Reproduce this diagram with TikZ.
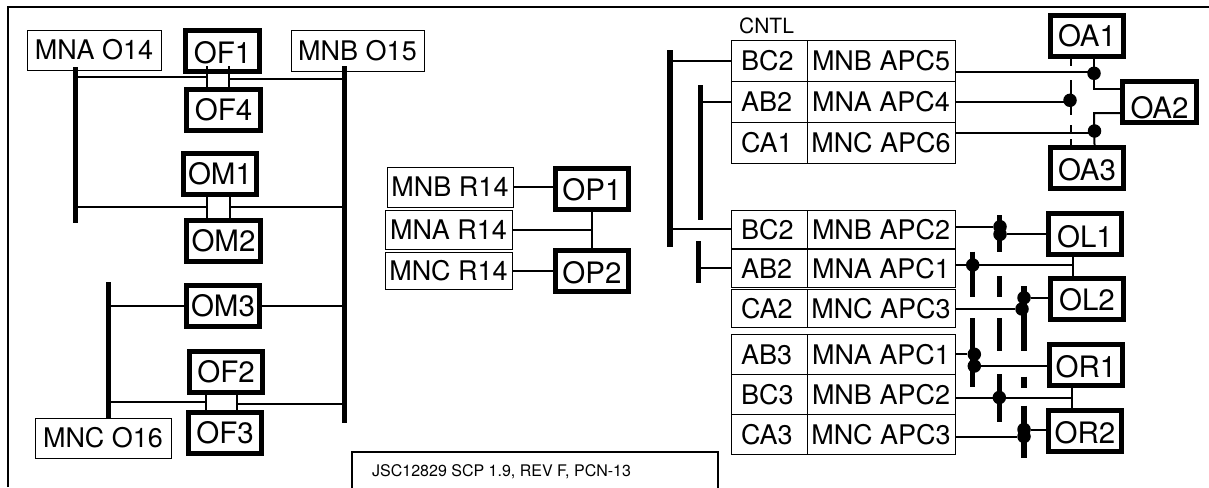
\documentclass[tikz,border=0pt]{standalone}
\usepackage{fontspec}
\setmainfont{TeX Gyre Heros}
\usetikzlibrary{positioning}
\tikzset{x=1pt, y=-1pt,
	node distance=40pt,
	every node/.style={inner sep=0pt},
	unit/.style={
		draw, line width=5pt,
		minimum width=73.5pt, minimum height=41pt,
		text height=21pt, text depth=0pt,
		font=\fontsize{29.5}{31}\selectfont},
	low/.style={text height=#1},
	tag/.style={
		draw, line width=0.9pt,
		font=\fontsize{27}{29}\selectfont},
	slot/.style={tag, inner xsep=10pt, text width=56pt, align=left, minimum height=40pt},
	apc/.style={tag, minimum width=148pt, minimum height=40pt},
	bus/.style={fill=black, minimum width=5pt},
	bar/.style={line width=5.5pt},
	wire/.style={line width=2pt},
	joint/.style={circle, fill=black, minimum size=13.5pt}
}
\begin{document}
\begin{tikzpicture}
	\useasboundingbox (0,0) rectangle (1209,487);
	% frame
	\coordinate (fbl) at (8,487);
	\coordinate (ftl) at (8,7);
	\coordinate (ftr) at (1209,7);
	\draw[line width=2pt] (fbl) -- (ftl) -- (ftr);

	% left block
	\node[tag, minimum width=134pt, minimum height=40pt] (mnao14) at (94,50) {MNA O14};
	\node[tag, minimum width=133pt, minimum height=41pt] (mnbo15) at (357.5,50.5) {MNB O15};
	\node[tag, minimum width=136pt, minimum height=40pt] (mnco16) at (103,438) {MNC O16};
	\node[bus, minimum height=156pt] (busA) at (75,145) {};
	\node[bus, minimum height=357pt] (busB) at (344.5,244.5) {};
	\node[bus, minimum height=136pt] (busC) at (108,350) {};
	\node[unit, low=25pt] (OF1) at (222.5,51) {OF1};
	\node[unit] (OF4) at (223.5,109.5) {OF4};
	\node[unit] (OM1) at (220,174) {OM1};
	\node[unit] (OM2) at (223.5,240.5) {OM2};
	\node[unit] (OM3) at (223,306) {OM3};
	\node[unit] (OF2) at (226,372) {OF2};
	\node[unit] (OF3) at (225,433) {OF3};
	\coordinate (sa1) at (207,66);
	\coordinate (sa2) at (207,88);
	\coordinate (sb1) at (229,66);
	\coordinate (sb2) at (229,88);
	\coordinate (wa) at (207,76.5);
	\coordinate (wb) at (229,79);
	\draw[wire] (sa1) -- (sa2);
	\draw[wire] (sb1) -- (sb2);
	\draw[wire] (busA |- wa) -- (wa);
	\draw[wire] (wb) -- (busB |- wb);
	\coordinate (wc) at (207,207);
	\coordinate (wd) at (230,206.5);
	\draw[wire] (wc |- OM1.south) -- (wc |- OM2.north);
	\draw[wire] (wd |- OM1.south) -- (wd |- OM2.north);
	\draw[wire] (busA |- wc) -- (wc);
	\draw[wire] (wd) -- (busB |- wd);
	\draw[wire] (busC |- OM3) -- (OM3);
	\draw[wire] (OM3) -- (busB |- OM3);
	\coordinate (we) at (206,402);
	\coordinate (wf) at (237,403.5);
	\draw[wire] (we |- OF2.south) -- (we |- OF3.north);
	\draw[wire] (wf |- OF2.south) -- (wf |- OF3.north);
	\draw[wire] (busC |- we) -- (we);
	\draw[wire] (wf) -- (busB |- wf);

	% middle block
	\node[tag, minimum width=126pt, minimum height=40pt] (mnbr14) at (450,187) {MNB R14};
	\node[tag, minimum width=127pt, minimum height=39pt] (mnar14) at (448.5,229.5) {MNA R14};
	\node[tag, minimum width=127pt, minimum height=37pt] (mncr14) at (448.5,270.5) {MNC R14};
	\node[unit, low=24pt] (OP1) at (592,188.5) {OP1};
	\node[unit, low=26pt] (OP2) at (592,270.5) {OP2};
	\draw[wire] (mnbr14.east |- 0,186.5) -- (OP1.west |- 0,186.5);
	\draw[wire] (mncr14) -- (OP2);
	\draw[wire] (OP1) -- (OP2);
	\draw[wire] (mnar14) -- (OP1 |- mnar14);
	\node[draw, line width=1.6pt, fill=white, minimum width=366pt, minimum height=50pt] (rev) at (535,477) {};
	\node[font=\fontsize{16}{18}\selectfont, anchor=west] (revtext) at (372,472) {JSC12829 SCP 1.9, REV F, PCN-13};

	% control tables
	\node[font=\fontsize{21}{23}\selectfont] (cntl) at (766.5,25.5) {CNTL};
	\node[slot, minimum height=41pt] (bc2a) at (769,61) {BC2};
	\node[slot, minimum height=41pt, below of=bc2a, node distance=41pt] (ab2a) {AB2};
	\node[slot, minimum height=41pt, below of=ab2a, node distance=41pt] (ca1) {CA1};
	\node[apc, minimum height=41pt, right of=bc2a, node distance=112pt] (apc5) {MNB APC5};
	\node[apc, minimum height=41pt, right of=ab2a, node distance=112pt] (apc4) {MNA APC4};
	\node[apc, minimum height=41pt, right of=ca1, node distance=112pt] (apc6) {MNC APC6};

	\node[slot, minimum height=38.5pt] (bc2b) at (769,229.3) {BC2};
	\node[slot, minimum height=38.5pt, below of=bc2b, node distance=39pt] (ab2b) {AB2};
	\node[slot, minimum height=38.5pt, below of=ab2b, node distance=40pt] (ca2) {CA2};
	\node[apc, minimum height=38.5pt, right of=bc2b, node distance=112pt] (apc2a) {MNB APC2};
	\node[apc, minimum height=38.5pt, right of=ab2b, node distance=112pt] (apc1a) {MNA APC1};
	\node[apc, minimum height=38.5pt, right of=ca2, node distance=112pt] (apc3a) {MNC APC3};

	\node[slot] (ab3) at (769,354.5) {AB3};
	\node[slot, below of=ab3] (bc3) {BC3};
	\node[slot, below of=bc3] (ca3) {CA3};
	\node[apc, right of=ab3, node distance=112pt] (apc1b) {MNA APC1};
	\node[apc, right of=bc3, node distance=112pt] (apc2b) {MNB APC2};
	\node[apc, right of=ca3, node distance=112pt] (apc3b) {MNC APC3};

	% control buses
	\node[bus, minimum width=5.5pt, minimum height=197pt] (busD) at (670,148.5) {};
	\node[bus, minimum height=135pt] (busE) at (700,152.5) {};
	\node[bus, minimum height=42pt] (busF) at (698,262) {};
	\draw[wire] (busD |- bc2a) -- (bc2a);
	\draw[wire] (busE |- ab2a) -- (ab2a);
	\draw[wire] (busD |- bc2b) -- (bc2b);
	\draw[wire] (busF |- ab2b) -- (ab2b);

	% effector units
	\node[unit] (OA1) at (1087,36) {OA1};
	\node[unit, low=33pt] (OA2) at (1159.5,102) {OA2};
	\node[unit, low=25pt] (OA3) at (1087,168) {OA3};
	\node[unit, low=26pt] (OL1) at (1085,234) {OL1};
	\node[unit, low=24pt] (OL2) at (1087,298.5) {OL2};
	\node[unit, low=25pt] (OR1) at (1086,364.5) {OR1};
	\node[unit, low=25pt] (OR2) at (1085,431) {OR2};

	% dashed bars
	\foreach \xx/\ya/\yb in {1071/58/65.7, 1071/80/115, 1071/125/132.7, 1071/139.3/145}
		\draw[line width=2pt] (\xx,\ya) -- (\xx,\yb);
	\foreach \xx/\ya/\yb in {
		999.5/215/252.3, 999.5/276/296.7, 999.5/318.3/351, 999.5/374.3/421.7,
		972.7/251.7/297.3, 972.7/318.3/387,
		1024/286/350.7, 1024/376.7/388.3, 1024/405.7/458.3}
		\draw[bar] (\xx,\ya) -- (\xx,\yb);

	% joints
	\node[joint] (ja1) at (1094,73.3) {};
	\node[joint] (ja2) at (1070,100.3) {};
	\node[joint] (ja3) at (1094.5,131) {};
	\node[joint] (jl1) at (1000,226.7) {};
	\node[joint] (jl2) at (1000,234.3) {};
	\node[joint] (jl3) at (972.7,265) {};
	\node[joint] (jl4) at (1024,297.7) {};
	\node[joint] (jl5) at (1022,309) {};
	\node[joint] (jr1) at (974.3,354.3) {};
	\node[joint] (jr2) at (974.3,366) {};
	\node[joint] (jr3) at (999.3,397.5) {};
	\node[joint] (jr4) at (1024,429.5) {};
	\node[joint] (jr5) at (1024,436.5) {};

	% wires
	\coordinate (oaa) at (1094,88.5);
	\coordinate (oab) at (1094,113);
	\draw[wire] (ja1 |- OA1.south) -- (oaa) -- (OA2.west |- oaa);
	\draw[wire] (ja3 |- OA3.north) -- (oab) -- (OA2.west |- oab);
	\draw[wire] (apc5.east |- 0,72) -- (ja1 |- 0,72);
	\draw[wire] (apc4.east |- 0,102) -- (ja2 |- 0,102);
	\draw[wire] (apc6.east |- 0,132.7) -- (ja3 |- 0,132.7);
	\draw[wire] (apc2a.east |- jl1) -- (jl1);
	\draw[wire] (jl2) -- (OL1.west |- jl2);
	\coordinate (ola) at (1073,265);
	\draw[wire] (apc1a.east |- jl3) -- (ola);
	\draw[wire] (ola |- OL1.south) -- (ola |- OL2.north);
	\draw[wire] (apc3a.east |- jl5) -- (jl5);
	\draw[wire] (jl4) -- (OL2.west |- jl4);
	\draw[wire] (apc1b.east |- jr1) -- (jr1);
	\draw[wire] (jr2) -- (OR1.west |- jr2);
	\coordinate (ora) at (1072,397.5);
	\draw[wire] (apc2b.east |- ora) -- (ora);
	\draw[wire] (ora |- OR1.south) -- (ora |- OR2.north);
	\draw[wire] (apc3b.east |- jr5) -- (jr5);
	\draw[wire] (jr4) -- (OR2.west |- jr4);
\end{tikzpicture}
\end{document}
